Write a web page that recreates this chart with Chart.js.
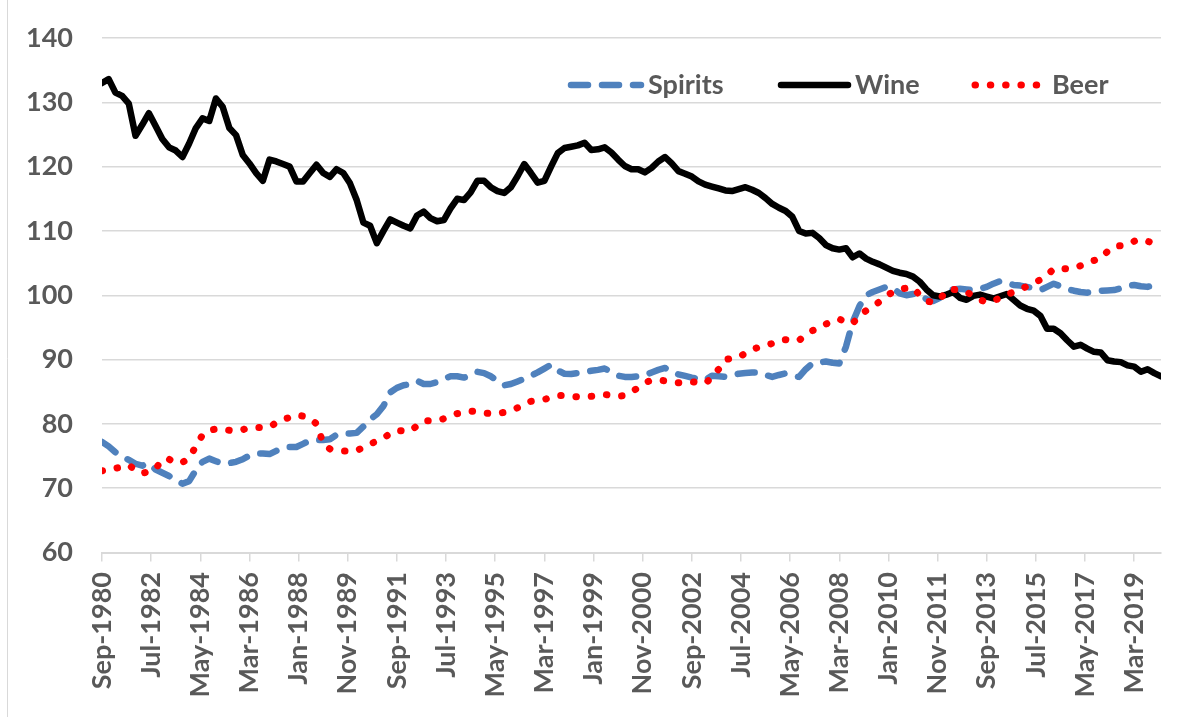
<!DOCTYPE html>
<html>
<head>
<meta charset="utf-8">
<script src="https://cdn.jsdelivr.net/npm/chart.js@4"></script>
<style>
  html, body { margin: 0; padding: 0; background: #ffffff; }
  #wrap { width: 1184px; height: 717px; position: relative; }
  canvas { display: block; }
</style>
</head>
<body>
<div id="wrap"><canvas id="c" width="1184" height="717"></canvas></div>
<script>
// ---------- DATA (quarterly, Sep-1980 .. Mar-2020) ----------
const seriesNames = ['Spirits', 'Wine', 'Beer'];

const tickLabels = ['Sep-1980','Jul-1982','May-1984','Mar-1986','Jan-1988','Nov-1989','Sep-1991',
  'Jul-1993','May-1995','Mar-1997','Jan-1999','Nov-2000','Sep-2002','Jul-2004','May-2006',
  'Mar-2008','Jan-2010','Nov-2011','Sep-2013','Jul-2015','May-2017','Mar-2019'];

const spirits = [
  77.2,76.5,75.6,74.9,74.4,73.8,73.5,73.9,72.9,72.4,
  71.9,71.3,70.7,71.1,72.8,74.1,74.6,74.2,73.8,73.9,
  74.1,74.5,75.1,75.4,75.4,75.3,75.8,76.3,76.4,76.4,
  76.9,77.4,77.5,77.5,77.6,78.3,78.5,78.5,78.6,79.6,
  80.7,81.5,82.8,84.9,85.6,86.0,86.2,86.7,86.2,86.2,
  86.5,87.0,87.4,87.4,87.2,87.5,88.1,87.9,87.4,86.7,
  86.0,86.2,86.6,87.0,87.5,88.0,88.6,89.2,88.3,87.8,
  87.75,87.9,88.1,88.25,88.4,88.6,88.1,87.5,87.3,87.3,
  87.4,87.55,88.0,88.4,88.7,88.1,87.7,87.45,87.2,87.0,
  86.8,87.5,87.4,87.3,87.5,87.8,87.9,88.0,88.0,87.6,
  87.3,87.6,87.85,87.5,87.3,88.5,89.4,89.55,89.7,89.5,
  89.4,92.0,95.8,98.3,100.0,100.5,100.9,101.3,101.1,100.3,
  100.0,100.2,100.2,99.4,99.1,99.6,100.6,100.9,101.0,100.9,
  100.8,101.0,101.3,101.8,102.2,101.9,101.6,101.5,101.3,101.1,
  100.8,101.3,101.8,101.4,101.0,100.7,100.5,100.4,100.55,100.7,
  100.75,100.8,101.1,101.45,101.6,101.4,101.3,101.6,102.1
];

const wine = [
  133.0,133.6,131.5,131.0,129.8,124.8,126.5,128.3,126.3,124.3,
  123.0,122.5,121.5,123.6,126.0,127.5,127.1,130.6,129.3,126.0,
  124.9,121.8,120.5,119.0,117.8,121.1,120.8,120.4,120.0,117.7,
  117.7,119.0,120.3,119.0,118.4,119.6,119.0,117.4,114.8,111.3,
  110.8,108.1,110.0,111.8,111.3,110.8,110.4,112.4,113.0,112.0,
  111.5,111.7,113.5,115.0,114.8,116.0,117.8,117.8,116.8,116.2,
  115.9,116.8,118.5,120.4,119.0,117.5,117.8,120.0,122.1,122.9,
  123.1,123.3,123.7,122.6,122.7,123.0,122.2,121.1,120.1,119.6,
  119.6,119.1,119.8,120.8,121.5,120.5,119.3,118.9,118.45,117.7,
  117.2,116.9,116.6,116.3,116.2,116.5,116.8,116.4,115.9,115.1,
  114.2,113.6,113.1,112.2,110.0,109.6,109.7,108.9,107.8,107.3,
  107.1,107.3,105.9,106.5,105.7,105.2,104.8,104.3,103.8,103.5,
  103.3,102.9,102.1,100.9,100.0,99.8,100.1,100.5,99.6,99.3,
  99.9,100.1,99.8,99.5,99.85,100.2,99.3,98.4,97.9,97.6,
  96.8,94.8,94.8,94.1,93.0,92.0,92.3,91.7,91.2,91.1,
  89.9,89.7,89.6,89.1,88.9,88.1,88.5,87.9,87.4
];

const beer = [
  72.7,72.9,73.1,73.3,73.6,72.8,72.3,72.6,73.0,74.5,
  74.5,73.9,74.0,74.7,76.5,78.3,79.0,79.2,79.2,79.0,
  78.9,79.1,79.4,79.45,79.45,79.5,80.2,80.7,81.0,81.4,
  81.2,80.9,80.0,77.0,76.1,75.9,75.8,75.8,75.8,76.4,
  76.9,77.3,77.8,78.5,79.0,78.9,78.9,79.7,80.5,80.5,
  80.5,80.8,81.3,81.6,81.8,82.0,81.9,81.7,81.6,81.6,
  81.8,82.1,82.5,83.0,83.5,83.6,83.8,84.1,84.4,84.4,
  84.3,84.2,84.25,84.3,84.4,84.55,84.5,84.3,84.4,85.0,
  85.6,86.4,86.8,86.8,86.7,86.5,86.4,86.5,86.55,86.4,
  86.3,87.2,88.5,90.0,90.2,90.35,91.0,91.6,91.9,92.2,
  92.5,93.0,93.1,92.9,93.0,93.8,94.5,94.9,95.5,96.0,
  96.3,95.8,95.6,96.9,97.6,98.2,99.0,99.9,100.5,100.95,
  101.1,101.2,100.0,99.1,98.9,99.3,100.8,100.9,100.8,100.5,
  99.9,99.3,98.9,99.1,99.6,100.1,100.5,100.9,101.4,101.9,
  102.4,103.1,104.1,104.2,104.1,104.2,104.6,105.1,105.4,105.7,
  106.8,107.6,107.7,107.9,108.4,108.7,108.4,108.0,107.9
];

const yTicks = { min: 60, max: 140, step: 10 };

// ---------- helpers (x = months since Sep-1980) ----------
const MONTHS_PER_POINT = 3;
const MONTHS_PER_TICK = 22;
const toPoints = arr => arr.map((v, i) => ({ x: i * MONTHS_PER_POINT, y: v }));
const lastMonth = (wine.length - 1) * MONTHS_PER_POINT;

const FONT = 'Lato, "Open Sans", sans-serif';
const TXT = '#595959';
const GRID = '#d9d9d9';

const customLegend = {
  id: 'customLegend',
  afterDraw(chart) {
    const ctx = chart.ctx;
    const items = [
      { ds: chart.data.datasets[0], x0: 571, x1: 641, tx: 648 },
      { ds: chart.data.datasets[1], x0: 781, x1: 848, tx: 855 },
      { ds: chart.data.datasets[2], x0: 975, x1: 1040, tx: 1052 }
    ];
    const ly = 85, ty = 94;
    items.forEach(it => {
      ctx.save();
      ctx.strokeStyle = it.ds.borderColor;
      ctx.lineWidth = it.ds.borderWidth;
      ctx.lineCap = it.ds.borderCapStyle || 'butt';
      ctx.setLineDash(it.ds.borderDash || []);
      ctx.beginPath();
      ctx.moveTo(it.x0, ly);
      ctx.lineTo(it.x1, ly);
      ctx.stroke();
      ctx.restore();
      ctx.save();
      ctx.fillStyle = TXT;
      ctx.font = 'bold 27px ' + FONT;
      ctx.textBaseline = 'alphabetic';
      ctx.textAlign = 'left';
      ctx.fillText(it.ds.label, it.tx, ty);
      ctx.restore();
    });
  }
};

const frame = {
  id: 'frame',
  beforeDraw(chart) {
    const ctx = chart.ctx;
    ctx.save();
    ctx.fillStyle = '#ffffff';
    ctx.fillRect(0, 0, chart.width, chart.height);
    ctx.strokeStyle = '#d9d9d9';
    ctx.lineWidth = 1;
    ctx.beginPath();
    ctx.moveTo(7.5, 0);
    ctx.lineTo(7.5, chart.height);
    ctx.stroke();
    ctx.restore();
  }
};

new Chart(document.getElementById('c'), {
  type: 'line',
  data: {
    datasets: [
      {
        label: seriesNames[0], data: toPoints(spirits), order: 3,
        borderColor: '#4f81bd', borderWidth: 6.5, borderDash: [17, 14],
        borderCapStyle: 'round', borderJoinStyle: 'round',
        pointRadius: 0, tension: 0, fill: false
      },
      {
        label: seriesNames[1], data: toPoints(wine), order: 2,
        borderColor: '#000000', borderWidth: 6.5,
        borderCapStyle: 'round', borderJoinStyle: 'round',
        pointRadius: 0, tension: 0, fill: false
      },
      {
        label: seriesNames[2], data: toPoints(beer), order: 1,
        borderColor: '#ff0000', borderWidth: 7, borderDash: [0.5, 14.8],
        borderCapStyle: 'round', borderJoinStyle: 'round',
        pointRadius: 0, tension: 0, fill: false
      }
    ]
  },
  options: {
    responsive: false,
    animation: false,
    devicePixelRatio: 1,
    layout: { padding: { left: 8, right: 23, top: 38, bottom: 0 } },
    plugins: {
      legend: { display: false },
      tooltip: { enabled: false },
      title: { display: false }
    },
    scales: {
      x: {
        type: 'linear',
        min: 0,
        max: lastMonth,
        afterBuildTicks(scale) {
          scale.ticks = tickLabels.map((_, i) => ({ value: i * MONTHS_PER_TICK }));
        },
        afterFit(scale) {
          scale.height = 717 - 552.5;
          scale.paddingLeft = 0;
          scale.paddingRight = 0;
        },
        ticks: {
          autoSkip: false,
          maxRotation: 90,
          minRotation: 90,
          padding: 10.5,
          color: TXT,
          font: { family: FONT, size: 27, weight: 'bold' },
          callback(value) {
            const idx = Math.round(value / MONTHS_PER_TICK);
            return tickLabels[idx] || '';
          }
        },
        grid: {
          display: true,
          drawOnChartArea: false,
          drawTicks: true,
          tickLength: 9,
          color: GRID,
          lineWidth: 1.5
        },
        border: { display: true, color: GRID, width: 2 }
      },
      y: {
        min: yTicks.min,
        max: yTicks.max,
        afterFit(scale) {
          scale.width = 94;
          scale.paddingTop = 0;
          scale.paddingBottom = 0;
        },
        ticks: {
          stepSize: yTicks.step,
          padding: 29,
          color: TXT,
          font: { family: FONT, size: 27, weight: 'bold' }
        },
        grid: { color: GRID, lineWidth: 1.5, drawTicks: false },
        border: { display: false }
      }
    }
  },
  plugins: [frame, customLegend]
});
</script>
</body>
</html>
